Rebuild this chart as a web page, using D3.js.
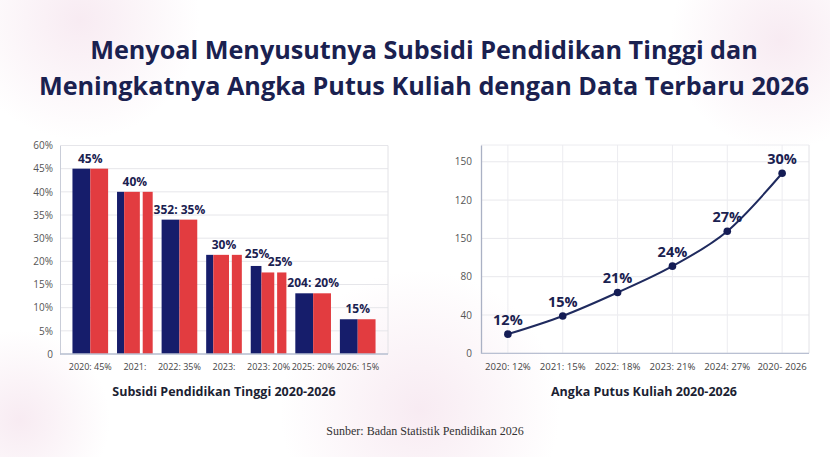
<!DOCTYPE html>
<html>
<head>
<meta charset="utf-8">
<script src="https://cdn.jsdelivr.net/npm/d3@7"></script>
<style>
  body { margin: 0; background: #fff; }
  text { font-family: "Open Sans", "Noto Sans", sans-serif; }
</style>
</head>
<body>
<script>
// data
const titleLines = ['Menyoal Menyusutnya Subsidi Pendidikan Tinggi dan',
                    'Meningkatnya Angka Putus Kuliah dengan Data Terbaru 2026'];
const source = 'Sunber: Badan Statistik Pendidikan 2026';

// left: bars (axis is labelled unevenly, so the scale follows the tick labels)
const barCategories = ['2020: 45%', '2021:', '2022: 35%', '2023:', '2023: 20%', '2025: 20%', '2026: 15%'];
const navyValues  = [45, 40, 34, 22.8, 19, 13.1, 7.5];
const redValues   = [45, 40, 34, 22.8, 17.6, 13.1, 7.5];
const extraRed    = [null, 40, null, 22.8, 17.6, null, null];
const groupLabels = ['45%', '40%', '352: 35%', '30%', '25%', '204: 20%', '15%'];
const navyLabels  = [null, null, null, null, '25%', null, null];
const barTicks    = [0, 5, 10, 15, 20, 30, 35, 40, 45, 60];
const barTitle    = 'Subsidi Pendidikan Tinggi 2020-2026';

// right: line
const lineCategories = ['2020: 12%', '2021: 15%', '2022: 18%', '2023: 21%', '2024: 27%', '2020- 2026'];
const lineValues     = [20, 39, 63.5, 91, 127.5, 188];
const lineLabels     = ['12%', '15%', '21%', '24%', '27%', '30%'];
const lineTicks      = [0, 40, 80, 120, 160, 200];
const lineTickLabels = ['0', '40', '80', '150', '120', '150'];
const lineTitle      = 'Angka Putus Kuliah 2020-2026';

const width = 830, height = 457;
const navy = '#161d6b', red = '#e23c40', ink = '#1a2150';

const svg = d3.select('body').append('svg')
  .attr('width', width).attr('height', height);

// faint background blobs
const defs = svg.append('defs');
const blob = defs.append('radialGradient').attr('id', 'blob');
blob.append('stop').attr('offset', '0%').attr('stop-color', '#f6e6ef').attr('stop-opacity', 0.8);
blob.append('stop').attr('offset', '100%').attr('stop-color', '#f6e6ef').attr('stop-opacity', 0);
[[80, 20, 120], [420, 410, 140], [780, 40, 110], [20, 420, 90]].forEach(([cx, cy, r]) =>
  svg.append('circle').attr('cx', cx).attr('cy', cy).attr('r', r).attr('fill', 'url(#blob)'));

// title
svg.append('g').selectAll('text').data(titleLines).join('text')
  .attr('x', 424).attr('y', (d, i) => 59 + i * 36)
  .attr('text-anchor', 'middle')
  .attr('font-size', 25.2).attr('font-weight', 700)
  .attr('fill', ink)
  .text(d => d);

// ---------- left bar chart ----------
const L = {left: 60, right: 388, top: 145.5, bottom: 354};

const yBar = d3.scaleLinear()
  .domain(barTicks)
  .range(barTicks.map((d, i) => L.bottom - i * (L.bottom - L.top) / (barTicks.length - 1)));

const xBar = d3.scaleBand()
  .domain(barCategories)
  .range([68, 380])
  .paddingInner(0.2).paddingOuter(0.1);

const gl = svg.append('g');

gl.append('g').selectAll('line').data(barTicks).join('line')
  .attr('x1', L.left).attr('x2', L.right)
  .attr('y1', d => yBar(d)).attr('y2', d => yBar(d))
  .attr('stroke', '#e6e6ea');
gl.append('line')
  .attr('x1', L.right).attr('x2', L.right).attr('y1', L.top).attr('y2', L.bottom)
  .attr('stroke', '#e2e2e6');

gl.append('g')
  .attr('transform', `translate(${L.left},0)`)
  .call(d3.axisLeft(yBar).tickValues(barTicks).tickSize(0).tickPadding(7)
    .tickFormat(d => d === 0 ? '0' : d + '%'))
  .call(g => g.select('.domain').attr('stroke', '#c9cdd8'))
  .call(g => g.selectAll('text').attr('font-size', 10).attr('fill', '#555')
    .style('font-family', '"Open Sans", sans-serif'));

const bw = xBar.bandwidth();
const idx = barCategories.map((c, i) => i);

// navy bars: narrow when the group carries a second red bar
const navyW = i => extraRed[i] != null ? bw * (i === 4 ? 0.3 : 0.2) : bw / 2;
const redW = i => extraRed[i] != null ? bw * (i === 4 ? 0.36 : 0.44) : bw / 2;

gl.append('g').attr('fill', navy).selectAll('rect').data(idx).join('rect')
  .attr('x', i => xBar(barCategories[i]))
  .attr('y', i => yBar(navyValues[i]))
  .attr('width', i => navyW(i))
  .attr('height', i => yBar(0) - yBar(navyValues[i]));

gl.append('g').attr('fill', red).selectAll('rect').data(idx).join('rect')
  .attr('x', i => xBar(barCategories[i]) + navyW(i))
  .attr('y', i => yBar(redValues[i]))
  .attr('width', i => redW(i))
  .attr('height', i => yBar(0) - yBar(redValues[i]));

gl.append('g').attr('fill', red).selectAll('rect').data(idx.filter(i => extraRed[i] != null)).join('rect')
  .attr('x', i => xBar(barCategories[i]) + navyW(i) + redW(i) + bw * 0.08)
  .attr('y', i => yBar(extraRed[i]))
  .attr('width', i => bw - navyW(i) - redW(i) - bw * 0.08)
  .attr('height', i => yBar(0) - yBar(extraRed[i]));

gl.append('line')
  .attr('x1', L.left).attr('x2', L.right).attr('y1', L.bottom).attr('y2', L.bottom)
  .attr('stroke', '#b9c0d2').attr('stroke-width', 1.5);

gl.append('g').selectAll('text').data(idx).join('text')
  .attr('x', i => xBar(barCategories[i]) + bw / 2)
  .attr('y', 370)
  .attr('text-anchor', 'middle').attr('font-size', 9).attr('fill', '#444')
  .text(i => barCategories[i]);

// group labels; where the navy bar has its own label, the group label sits to its right
gl.append('g').selectAll('text').data(idx).join('text')
  .attr('x', i => navyLabels[i]
    ? xBar(barCategories[i]) + navyW(i) / 2 + 24
    : xBar(barCategories[i]) + bw / 2)
  .attr('y', i => yBar(Math.max(redValues[i], navyLabels[i] ? 0 : navyValues[i])) - 6)
  .attr('text-anchor', 'middle').attr('font-size', 12).attr('font-weight', 700).attr('fill', ink)
  .text(i => groupLabels[i]);

gl.append('g').selectAll('text').data(idx.filter(i => navyLabels[i])).join('text')
  .attr('x', i => xBar(barCategories[i]) + navyW(i) / 2 + 1)
  .attr('y', i => yBar(navyValues[i]) - 8)
  .attr('text-anchor', 'middle').attr('font-size', 12).attr('font-weight', 700).attr('fill', ink)
  .text(i => navyLabels[i]);

gl.append('text')
  .attr('x', 224).attr('y', 396).attr('text-anchor', 'middle')
  .attr('font-size', 12.5).attr('font-weight', 700).attr('fill', '#1c1f33')
  .text(barTitle);

// ---------- right line chart ----------
const R = {left: 481, right: 809, top: 145, bottom: 353.3};

const xLine = d3.scalePoint()
  .domain(lineCategories)
  .range([R.left, R.right])
  .padding(0.49);

const yLine = d3.scaleLinear()
  .domain([0, 217.5])
  .range([R.bottom, R.top]);

const gr = svg.append('g');

gr.append('g').selectAll('line').data(lineTicks).join('line')
  .attr('x1', R.left).attr('x2', R.right)
  .attr('y1', d => yLine(d)).attr('y2', d => yLine(d))
  .attr('stroke', '#e8e8ec');
gr.append('g').selectAll('line').data(lineCategories).join('line')
  .attr('x1', d => xLine(d)).attr('x2', d => xLine(d))
  .attr('y1', R.top).attr('y2', R.bottom)
  .attr('stroke', '#ececf0');
gr.append('line')
  .attr('x1', R.right).attr('x2', R.right).attr('y1', R.top).attr('y2', R.bottom)
  .attr('stroke', '#e2e2e6');
gr.append('line')
  .attr('x1', R.left).attr('x2', R.right).attr('y1', R.top).attr('y2', R.top)
  .attr('stroke', '#ececf0');

gr.append('g')
  .attr('transform', `translate(${R.left},0)`)
  .call(d3.axisLeft(yLine).tickValues(lineTicks).tickSize(0).tickPadding(9)
    .tickFormat((d, i) => lineTickLabels[i]))
  .call(g => g.select('.domain').attr('stroke', '#aab1c4').attr('stroke-width', 1.3))
  .call(g => g.selectAll('text').attr('font-size', 10).attr('fill', '#555')
    .style('font-family', '"Open Sans", sans-serif'));

gr.append('line')
  .attr('x1', R.left).attr('x2', R.right).attr('y1', R.bottom).attr('y2', R.bottom)
  .attr('stroke', '#b9c0d2').attr('stroke-width', 1.3);

gr.append('g').selectAll('text').data(lineCategories).join('text')
  .attr('x', d => xLine(d)).attr('y', 370)
  .attr('text-anchor', 'middle').attr('font-size', 9.6).attr('fill', '#444')
  .text(d => d);

const lineIdx = lineCategories.map((c, i) => i);
gr.append('path')
  .datum(lineIdx)
  .attr('fill', 'none').attr('stroke', '#1f2a5e').attr('stroke-width', 2)
  .attr('d', d3.line()
    .x(i => xLine(lineCategories[i]))
    .y(i => yLine(lineValues[i]))
    .curve(d3.curveMonotoneX));

gr.append('g').attr('fill', '#141c55').selectAll('circle').data(lineIdx).join('circle')
  .attr('cx', i => xLine(lineCategories[i]))
  .attr('cy', i => yLine(lineValues[i]))
  .attr('r', 3.8);

gr.append('g').selectAll('text').data(lineIdx).join('text')
  .attr('x', i => xLine(lineCategories[i]))
  .attr('y', i => yLine(lineValues[i]) - 9)
  .attr('text-anchor', 'middle').attr('font-size', 14.5).attr('font-weight', 700).attr('fill', ink)
  .text(i => lineLabels[i]);

gr.append('text')
  .attr('x', 644).attr('y', 396).attr('text-anchor', 'middle')
  .attr('font-size', 12.5).attr('font-weight', 700).attr('fill', '#1c1f33')
  .text(lineTitle);

svg.append('text')
  .attr('x', 425).attr('y', 435).attr('text-anchor', 'middle')
  .attr('font-size', 12).attr('fill', '#333')
  .style('font-family', '"Liberation Serif", "DejaVu Serif", serif')
  .text(source);
</script>
</body>
</html>
